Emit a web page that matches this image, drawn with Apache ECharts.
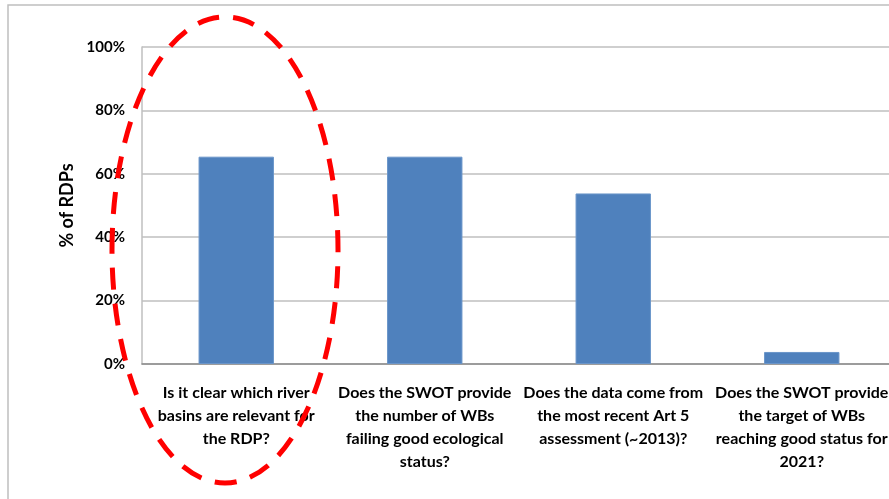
<!DOCTYPE html>
<html>
<head>
<meta charset="utf-8">
<script src="https://cdn.jsdelivr.net/npm/echarts@6/dist/echarts.min.js"></script>
<style>
  html, body { margin: 0; padding: 0; background: #fff; }
  #main { width: 889px; height: 499px; }
</style>
</head>
<body>
<div id="main"></div>
<script>
// categories (line breaks as in the original chart)
const categories = [
  'Is it clear which river\nbasins are relevant for\nthe RDP?',
  'Does the SWOT provide\nthe number of WBs\nfailing good ecological\nstatus?',
  'Does the data come from\nthe most recent Art 5\nassessment (~2013)?',
  'Does the SWOT provide\nthe target of WBs\nreaching good status for\n2021?'
];
// share of RDPs, in %
const shareRDPs = [65.4, 65.4, 53.8, 3.8];
const yTicks = [0, 20, 40, 60, 80, 100];

const chart = echarts.init(document.getElementById('main'));

const option = {
  animation: false,
  backgroundColor: '#fff',
  grid: {
    left: 142,
    top: 47,
    width: 754,
    height: 317,
    outerBoundsMode: 'none',
    containLabel: false
  },
  xAxis: {
    type: 'category',
    data: categories,
    axisTick: { show: false },
    axisLine: { lineStyle: { color: '#8c8c8c', width: 1.5 } },
    axisLabel: {
      interval: 0,
      margin: 17,
      color: '#000',
      fontFamily: 'Lato',
      fontWeight: 'bold',
      fontSize: 16,
      lineHeight: 23
    }
  },
  yAxis: {
    type: 'value',
    min: yTicks[0],
    max: yTicks[yTicks.length - 1],
    interval: 20,
    name: '% of RDPs',
    nameLocation: 'middle',
    nameGap: 58,
    nameTextStyle: {
      color: '#000',
      fontFamily: 'Lato',
      fontWeight: 'bold',
      fontSize: 18
    },
    axisLine: { show: true, lineStyle: { color: '#bfbfbf', width: 1.5 } },
    axisTick: { show: false },
    splitLine: { lineStyle: { color: '#bfbfbf', width: 1.5 } },
    axisLabel: {
      margin: 17,
      color: '#000',
      fontFamily: 'Lato',
      fontWeight: 'bold',
      fontSize: 15,
      formatter: '{value}%'
    }
  },
  series: [{
    type: 'bar',
    data: shareRDPs,
    barCategoryGap: '60%',
    itemStyle: { color: '#4f81bd', borderColor: '#6a95c9', borderWidth: 1 }
  }],
  graphic: [
    {
      type: 'rect',
      shape: { x: 8, y: 5, width: 1000, height: 1000 },
      style: { fill: null, stroke: '#bfbfbf', lineWidth: 1.5 },
      silent: true
    },
    {
      type: 'ellipse',
      shape: { cx: 225, cy: 250, rx: 113, ry: 233 },
      style: { fill: null, stroke: '#ff0000', lineWidth: 5, lineDash: [22, 14] },
      z: 100,
      silent: true
    }
  ]
};

chart.setOption(option);
</script>
</body>
</html>
